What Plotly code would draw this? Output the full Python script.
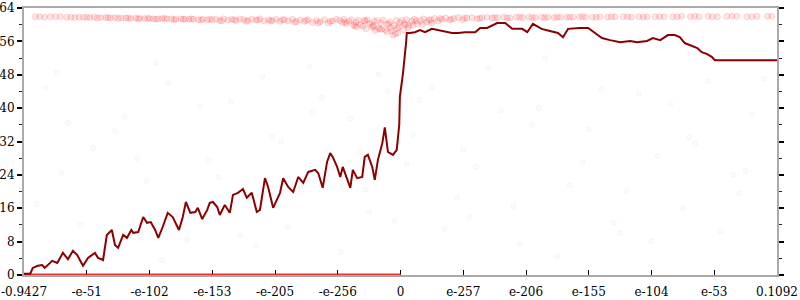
import plotly.graph_objects as go

# ---------------- data ----------------
tick_pos = [0, 1, 2, 3, 4, 5, 6, 7, 8, 9, 10, 11, 12]
tick_labels = ["-0.9427", "-e-51", "-e-102", "-e-153", "-e-205", "-e-256", "0",
               "e-257", "e-206", "e-155", "e-104", "e-53", "0.1092"]

line_x = [0.00, 0.10, 0.14, 0.22, 0.29, 0.33, 0.45, 0.53, 0.62, 0.70, 0.78, 0.85, 0.89, 0.94,
          1.02, 1.13, 1.18, 1.26, 1.32, 1.40, 1.45, 1.50, 1.58, 1.64, 1.71, 1.74, 1.82, 1.90,
          1.96, 2.02, 2.09, 2.14, 2.21, 2.29, 2.37, 2.47, 2.53, 2.58, 2.65, 2.73, 2.77, 2.84,
          2.92, 2.96, 3.01, 3.08, 3.12, 3.20, 3.28, 3.33, 3.41, 3.49, 3.55, 3.63, 3.71, 3.76,
          3.84, 3.89, 3.97, 4.08, 4.13, 4.21, 4.29, 4.37, 4.45, 4.53, 4.64, 4.69, 4.76, 4.83,
          4.88, 4.92, 4.99, 5.04, 5.08, 5.15, 5.20, 5.24, 5.31, 5.39, 5.43, 5.48, 5.55, 5.59,
          5.64, 5.71, 5.75, 5.80, 5.88, 5.94, 5.98, 5.99, 6.04, 6.09, 6.10,
          6.15, 6.23, 6.31, 6.39, 6.50, 6.60, 6.71, 6.82, 6.92, 7.03, 7.19, 7.27, 7.38, 7.54,
          7.67, 7.78, 7.94, 8.02, 8.11, 8.25, 8.38, 8.51, 8.59, 8.67, 8.86, 8.99, 9.10, 9.21,
          9.34, 9.50, 9.66, 9.77, 9.93, 10.02, 10.14, 10.26, 10.37, 10.45, 10.53, 10.61,
          10.73, 10.80, 10.88, 10.96, 11.01, 12.00]
line_y = [0.3, 0.3, 1.7, 2.2, 2.4, 1.7, 3.4, 2.9, 5.3, 3.8, 5.8, 4.8, 3.6, 2.2,
          4.1, 5.3, 4.1, 3.6, 9.6, 10.8, 7.2, 6.5, 9.6, 8.9, 10.8, 10.1, 10.3, 13.9,
          12.5, 12.7, 10.8, 8.9, 11.5, 14.9, 13.9, 10.8, 13.9, 17.5, 14.9, 15.1, 16.1, 13.4,
          15.6, 17.3, 17.5, 16.3, 14.4, 16.8, 14.9, 19.2, 19.7, 20.6, 18.5, 19.7, 15.1, 15.6,
          23.2, 21.1, 16.1, 19.7, 23.2, 21.1, 19.9, 23.5, 22.1, 24.7, 25.2, 24.4, 20.9, 27.1,
          29.2, 28.3, 25.9, 23.5, 25.9, 23.2, 20.9, 25.2, 23.2, 23.5, 28.3, 28.8, 25.9, 22.8,
          27.6, 31.6, 35.4, 29.5, 28.8, 30.0, 36.0, 42.7, 48.4, 55.8, 58.0,
          58.0, 58.2, 58.7, 58.2, 59.0, 58.7, 58.2, 58.0, 58.0, 58.2, 58.2, 59.2, 59.2, 60.4,
          60.4, 59.0, 59.0, 58.2, 60.2, 59.0, 58.5, 58.0, 57.0, 59.0, 59.2, 59.2, 58.0, 56.8,
          56.3, 55.8, 56.1, 55.8, 56.1, 56.8, 56.3, 57.5, 57.5, 57.0, 55.6, 55.1,
          54.4, 53.4, 53.0, 52.3, 51.5, 51.5]

band_x = [0.18, 0.25, 0.42, 0.50, 0.68, 0.75, 0.88, 0.95, 1.05, 1.12, 1.22, 1.30, 1.38, 1.45,
          1.55, 1.62, 1.70, 1.78, 1.85, 1.92, 2.00, 2.06, 2.14, 2.20, 2.28, 2.35, 2.42, 2.50,
          2.57, 2.63, 2.70, 2.78, 2.85, 2.92, 3.00,
          3.06, 3.12, 3.18, 3.25, 3.31, 3.38, 3.44, 3.50, 3.57, 3.63, 3.70, 3.76, 3.83, 3.90,
          3.96, 4.02, 4.08, 4.15, 4.21, 4.28, 4.34, 4.40, 4.47, 4.53, 4.60, 4.66, 4.72, 4.79,
          4.85, 4.92, 4.98,
          5.03, 5.07, 5.10, 5.14, 5.18, 5.22, 5.25, 5.29, 5.33, 5.36, 5.40, 5.44, 5.47, 5.51,
          5.55, 5.58, 5.62, 5.65, 5.69, 5.72, 5.76, 5.79, 5.83, 5.86, 5.90, 5.93, 5.96, 5.99,
          5.30, 5.45, 5.60, 5.70, 5.78, 5.85, 5.92, 5.97, 5.55, 5.88,
          6.02, 6.06, 6.10, 6.14, 6.18, 6.22, 6.27, 6.32, 6.37, 6.42, 6.48, 6.54, 6.60, 6.66,
          6.72, 6.78, 6.85, 6.92, 6.99, 7.06, 7.14, 7.22, 7.30, 7.38, 7.46,
          6.05, 6.12, 6.20, 6.35, 6.50,
          7.55, 7.65, 7.75, 7.85, 7.95, 8.05, 8.15, 8.25, 8.35, 8.45, 8.55, 8.65, 8.75, 8.85,
          8.95, 9.06, 9.18, 9.30, 9.42, 9.55, 9.68, 9.80, 9.93, 10.06, 10.20, 10.34, 10.48,
          10.62, 10.76, 10.90, 11.05, 11.20, 11.36, 11.52, 11.68, 11.85,
          0.33, 0.58, 0.81, 1.00, 1.17, 1.34, 1.50, 1.66, 1.82, 1.97, 2.10, 2.24, 2.39, 2.54,
          2.67, 2.82, 2.96, 3.15, 3.35, 3.54, 3.73, 3.93, 4.12, 4.31, 4.50, 4.69, 4.88,
          5.12, 5.27, 5.42, 5.57, 5.67, 5.81, 5.95, 6.08, 6.25, 6.45, 6.63, 6.81, 7.02, 7.26,
          7.50, 7.70, 7.90, 8.10, 8.30, 8.50, 8.70, 8.90, 9.12, 9.36, 9.62, 9.87, 10.13,
          10.41, 10.69, 10.97, 11.28, 11.60, 11.92]
band_y = [61.9, 61.9, 61.9, 61.9, 61.8, 61.8, 61.8, 61.8, 61.7, 61.8, 61.7, 61.7, 61.6, 61.7,
          61.6, 61.6, 61.5, 61.6, 61.5, 61.5, 61.5, 61.4, 61.4, 61.5, 61.4, 61.4, 61.3, 61.4,
          61.3, 61.3, 61.3, 61.2, 61.3, 61.2, 61.2,
          61.3, 61.0, 61.4, 61.1, 61.3, 61.0, 61.4, 61.2, 61.0, 61.3, 61.1, 61.4, 60.9, 61.2,
          61.0, 61.3, 60.8, 61.2, 60.9, 61.3, 60.7, 61.1, 60.8, 61.2, 60.5, 61.0, 60.7, 61.2,
          60.4, 60.9, 61.3,
          61.0, 60.5, 61.3, 60.2, 60.8, 61.2, 59.9, 60.6, 61.1, 60.0, 59.6, 60.9, 61.2, 60.3,
          59.4, 60.8, 61.0, 59.2, 60.4, 61.1, 58.8, 60.1, 60.7, 58.5, 59.8, 61.0, 58.0, 60.5,
          59.5, 59.0, 58.6, 58.9, 58.3, 59.2, 57.8, 59.5, 59.9, 57.5,
          61.0, 60.3, 61.2, 59.8, 60.8, 61.3, 60.2, 61.0, 61.4, 60.6, 61.2, 61.5, 60.9, 61.3,
          61.6, 61.1, 61.5, 61.7, 61.2, 61.6, 61.7, 61.4, 61.7, 61.8, 61.6,
          58.8, 59.3, 59.9, 60.0, 60.4,
          61.7, 61.8, 61.6, 61.8, 61.7, 61.8, 61.7, 61.8, 61.8, 61.7, 61.8, 61.8, 61.8, 61.9,
          61.8, 61.8, 61.9, 61.8, 61.9, 61.9, 61.8, 61.9, 61.9, 61.9, 61.9, 61.9, 62.0,
          61.9, 61.9, 62.0, 61.9, 62.0, 62.0, 61.9, 62.0, 62.0,
          61.8, 61.9, 61.7, 61.8, 61.6, 61.7, 61.5, 61.6, 61.4, 61.5, 61.3, 61.5, 61.2, 61.3,
          61.4, 61.1, 61.3, 60.9, 61.2, 60.8, 61.1, 60.9, 61.2, 60.6, 61.0, 60.4, 60.8,
          60.6, 59.7, 61.0, 59.6, 58.9, 60.2, 59.1, 60.0, 60.9, 61.1, 61.5, 61.3, 61.6, 61.5,
          61.7, 61.6, 61.8, 61.7, 61.7, 61.8, 61.8, 61.9, 61.8, 61.9, 61.9, 61.8, 61.9,
          61.9, 62.0, 61.9, 62.0, 61.9, 62.0]

faint_x = [0.35, 0.52, 0.90, 1.10, 1.60, 1.95, 2.30, 2.60, 2.95, 3.30, 3.60, 3.95, 4.20, 4.55,
           4.90, 5.20, 5.50, 5.80, 0.20, 0.70, 1.30, 1.80, 2.10, 2.45, 2.80, 3.10, 3.45, 3.80,
           4.10, 4.40, 4.75, 5.05, 5.35, 5.65, 5.90, 6.20, 6.50, 6.90, 7.20, 7.60, 7.90, 8.30,
           8.70, 9.00, 9.40, 9.80, 10.10, 10.50, 10.90, 11.30, 11.60, 6.30, 6.70, 7.00, 7.40,
           7.80, 8.10, 8.50, 8.90, 9.20, 9.60, 10.00, 10.30, 10.70, 11.10, 11.50, 11.80,
           0.60, 1.45, 2.20, 3.70, 4.60, 5.45, 6.10, 7.10, 8.20, 9.50, 10.60, 11.40]
faint_y = [44.8, 48.5, 12.0, 30.5, 38.0, 22.5, 46.0, 8.5, 27.5, 41.5, 19.0, 33.0, 11.5, 50.0,
           25.5, 37.5, 15.0, 44.0, 17.0, 36.5, 6.5, 28.0, 51.0, 14.5, 40.5, 23.5, 9.5, 47.5,
           32.0, 21.0, 42.5, 5.5, 29.5, 48.0, 13.0, 33.5, 45.0, 18.5, 26.0, 39.5, 7.5, 52.0,
           21.5, 35.0, 12.5, 43.5, 28.5, 16.0, 46.5, 24.0, 38.5, 42.0, 11.0, 30.0, 49.5,
           16.5, 36.0, 4.5, 27.0, 44.5, 20.0, 8.0, 41.0, 31.5, 10.5, 25.0, 47.0,
           24.5, 34.5, 3.5, 7.0, 39.0, 20.5, 26.5, 14.0, 40.0, 10.0, 33.0, 19.5]

zero_x = [0, 6]
zero_y = [0, 0]

# ---------------- figure ----------------
FONT = dict(family="DejaVu Serif", size=12, color="#000")
AX_LINE = "#aaaaaa"

fig = go.Figure()
fig.add_trace(go.Scatter(x=faint_x, y=faint_y, mode="markers", hoverinfo="skip",
                         marker=dict(size=5, color="rgba(255,0,0,0.02)",
                                     line=dict(color="rgba(255,0,0,0.05)", width=1))))
fig.add_trace(go.Scatter(x=band_x, y=band_y, mode="markers", hoverinfo="skip",
                         marker=dict(size=6, color="rgba(255,0,0,0.10)",
                                     line=dict(color="rgba(255,0,0,0.13)", width=1))))
fig.add_trace(go.Scatter(x=zero_x, y=zero_y, mode="lines", cliponaxis=False, hoverinfo="skip",
                         line=dict(color="rgba(235,30,30,0.9)", width=3)))
fig.add_trace(go.Scatter(x=line_x, y=line_y, mode="lines",
                         line=dict(color="#8b0000", width=2)))

minor_out = dict(dtick=4, ticks="outside", ticklen=3, tickcolor="#222", tickwidth=1)
minor_in = dict(dtick=4, ticks="inside", ticklen=3, tickcolor="#222", tickwidth=1)

common_y = dict(range=[0, 64], dtick=8, tick0=0, showgrid=False, zeroline=False,
                tickcolor="#000", tickwidth=1.5, ticklen=5, layer="below traces",
                tickfont=FONT, automargin=False)

fig.update_layout(
    width=800, height=300,
    margin=dict(l=24, r=23, t=8, b=25, autoexpand=False),
    paper_bgcolor="white", plot_bgcolor="white",
    showlegend=False,
    font=FONT,
    xaxis=dict(range=[0, 12], tickmode="array", tickvals=tick_pos, ticktext=tick_labels,
               ticks="inside", ticklen=5, tickcolor="#000", tickwidth=1, tickfont=FONT,
               ticklabelstandoff=5, automargin=False,
               showline=True, linecolor=AX_LINE, linewidth=2, mirror=True,
               showgrid=False, zeroline=False, layer="below traces"),
    yaxis=dict(**common_y, ticks="outside", minor=minor_out,
               showline=True, linecolor=AX_LINE, linewidth=2, mirror="allticks"),
    yaxis2=dict(**common_y, overlaying="y", ticks="inside", minor=minor_in,
                showline=False, showticklabels=False, mirror="allticks"),
    yaxis3=dict(**common_y, overlaying="y", anchor="free", position=0.5, side="left",
                ticks="outside", minor=minor_out, showline=True, linecolor=AX_LINE,
                linewidth=2, showticklabels=False),
    yaxis4=dict(**common_y, overlaying="y", anchor="free", position=0.5, side="left",
                ticks="inside", minor=minor_in, showline=False, showticklabels=False),
)

fig.write_html("out.html")
